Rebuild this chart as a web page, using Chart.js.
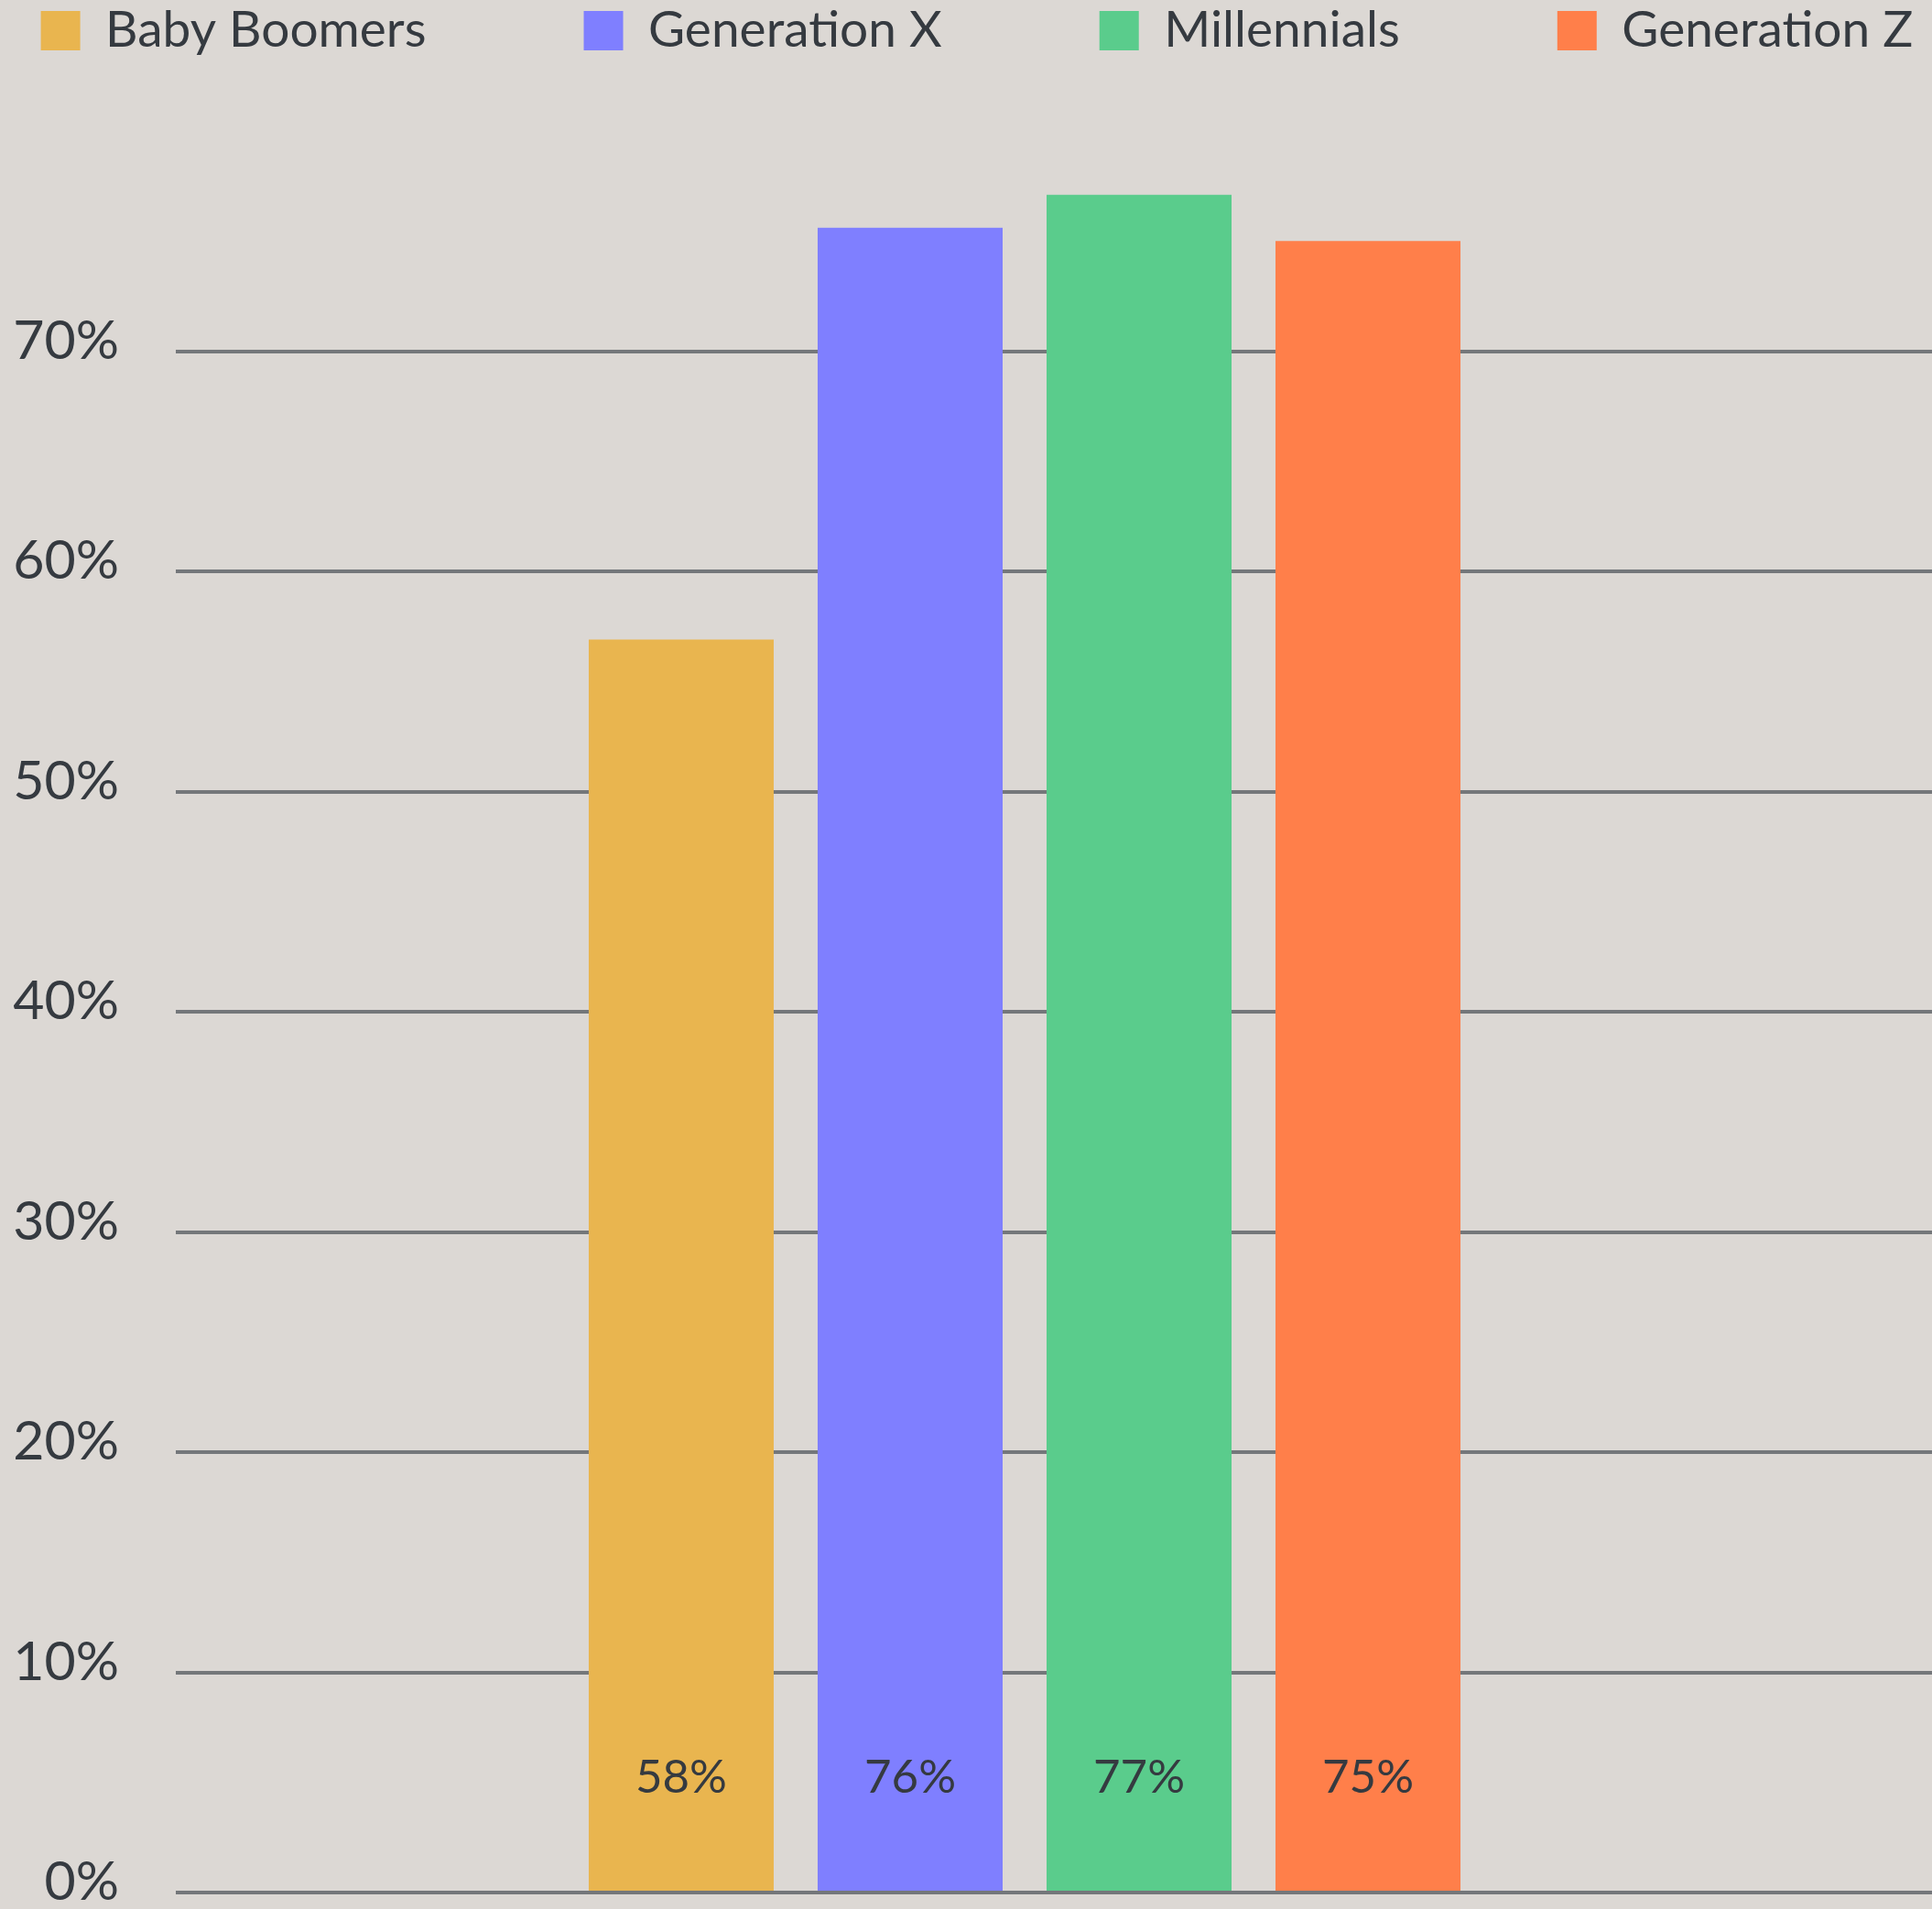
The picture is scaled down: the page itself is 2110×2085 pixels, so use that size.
<!DOCTYPE html>
<html>
<head>
<meta charset="utf-8">
<title>Generations</title>
<script src="https://cdn.jsdelivr.net/npm/chart.js@4.4.1/dist/chart.umd.min.js"></script>
<style>
  html, body { margin: 0; padding: 0; background: #dcd8d4; overflow: hidden; }
  #wrap { width: 2110px; height: 2085px; position: relative; }
</style>
</head>
<body>
<div id="wrap"><canvas id="chart"></canvas></div>
<script>
// data
const generations = ["Baby Boomers", "Generation X", "Millennials", "Generation Z"];
const shares = [56.9, 75.6, 77.1, 75.0];           // bar heights (%)
const shareLabels = ["58%", "76%", "77%", "75%"];  // text printed in the bars
const yTicks = [0, 10, 20, 30, 40, 50, 60, 70];
const yMax = 80;

const colors = ["#e9b54f", "#7f7fff", "#5acc8c", "#ff7f4a"];
const textColor = "#353a40";
const gridColor = "#74777a";

// layout
const W = 2110;
const AREA_LEFT = 192, AREA_RIGHT = 2046, AREA_TOP = 143;
const SIDE_L = 200, SIDE_R = 224;   // negative side padding so the wide legend row fits
const LEGEND_GAP = 172;             // space between legend items
const LEGEND_TOP = 6;

// legend keeps a fixed height so the plot starts at AREA_TOP
const legendSpace = {
  id: "legendSpace",
  beforeInit(chart) {
    const fit = chart.legend.fit;
    chart.legend.fit = function () {
      fit.call(this);
      this.height = AREA_TOP - (LEGEND_TOP - LEGEND_GAP);
    };
  }
};

// percentage text near the foot of each bar
const barLabels = {
  id: "barLabels",
  afterDatasetsDraw(chart) {
    const { ctx, scales: { y } } = chart;
    ctx.save();
    ctx.font = "51px Lato";
    ctx.fillStyle = textColor;
    ctx.textAlign = "center";
    ctx.textBaseline = "middle";
    chart.data.datasets.forEach((ds, i) => {
      const bar = chart.getDatasetMeta(i).data[0];
      ctx.fillText(shareLabels[i], bar.x, y.getPixelForValue(5.2));
    });
    ctx.restore();
  }
};

const useTicks = (axis) => { axis.ticks = yTicks.map(v => ({ value: v })); };

new Chart(document.getElementById("chart"), {
  type: "bar",
  data: {
    labels: [""],
    datasets: generations.map((g, i) => ({
      label: g,
      data: [shares[i]],
      backgroundColor: colors[i],
      borderWidth: 0
    }))
  },
  options: {
    responsive: true,
    maintainAspectRatio: false,
    animation: false,
    devicePixelRatio: 1,
    layout: { padding: { left: -SIDE_L, right: -SIDE_R, top: LEGEND_TOP - LEGEND_GAP, bottom: 18 } },
    datasets: { bar: { barPercentage: 0.808, categoryPercentage: 0.5394 } },
    scales: {
      x: { display: false },
      y: {
        min: 0, max: yMax,
        afterBuildTicks: useTicks,
        afterFit: (s) => { s.width = AREA_LEFT + SIDE_L; },
        border: { display: false },
        // invisible tick marks make the gap between labels and grid
        grid: { color: gridColor, lineWidth: 4, drawTicks: true, tickLength: 62, tickColor: "transparent" },
        ticks: {
          padding: 0,
          labelOffset: -11,
          color: textColor,
          font: { family: "Lato", size: 59, lineHeight: 0.6 },
          callback: (v) => v + "%"
        }
      },
      y1: {
        position: "right",
        min: 0, max: yMax,
        afterBuildTicks: useTicks,
        afterFit: (s) => { s.width = W + SIDE_R - AREA_RIGHT; },
        border: { display: false },
        grid: { drawOnChartArea: false, color: gridColor, lineWidth: 4, tickLength: W - AREA_RIGHT },
        ticks: { display: false }
      }
    },
    plugins: {
      legend: {
        position: "top",
        labels: {
          color: textColor,
          font: { family: "Lato", size: 55 },
          boxWidth: 43,
          boxHeight: 43,
          padding: LEGEND_GAP
        }
      },
      tooltip: { enabled: false }
    }
  },
  plugins: [legendSpace, barLabels]
});
</script>
</body>
</html>
